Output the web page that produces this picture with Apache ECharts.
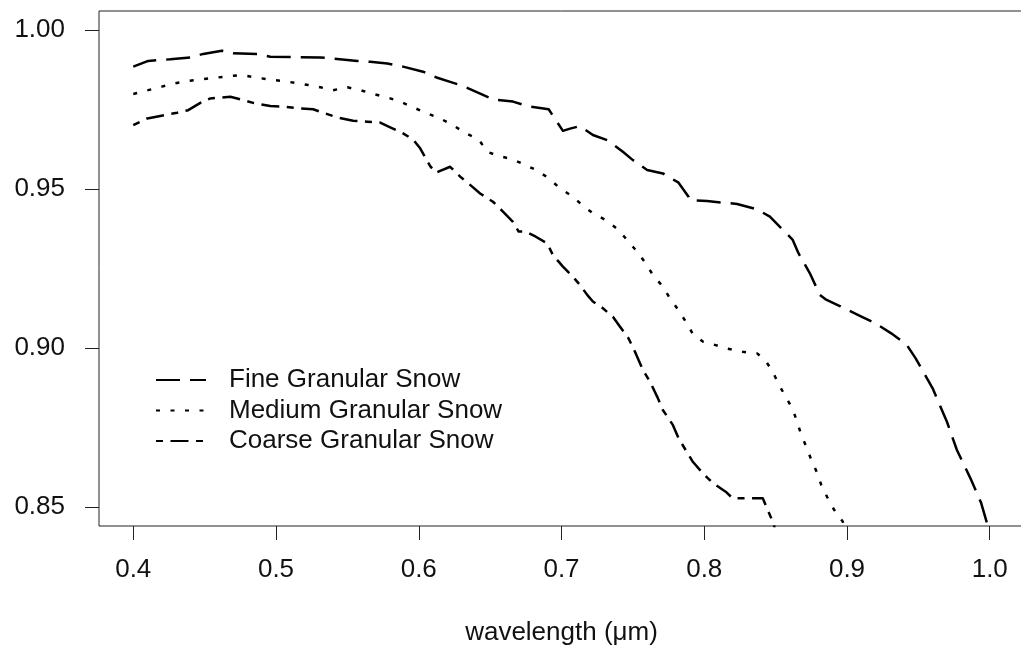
<!DOCTYPE html>
<html>
<head>
<meta charset="utf-8">
<script src="https://cdn.jsdelivr.net/npm/echarts@6/dist/echarts.min.js"></script>
<style>
html,body{margin:0;padding:0;background:#fff;}
#chart{width:1021px;height:645px;}
</style>
</head>
<body>
<div id="chart"></div>
<script>
// ---- data ----
const seriesNames = ["Fine Granular Snow", "Medium Granular Snow", "Coarse Granular Snow"];

const wlFine = [0.400,0.4105,0.426,0.440,0.449,0.462,0.470,0.487,0.496,0.531,0.557,0.566,0.578,0.589,0.603,0.613,0.622,0.631,0.645,0.652,0.666,0.676,0.691,0.696,0.701,0.706,0.713,0.722,0.732,0.743,0.750,0.760,0.771,0.782,0.789,0.790,0.802,0.823,0.837,0.846,0.862,0.866,0.874,0.881,0.885,0.895,0.909,0.919,0.931,0.939,0.942,0.948,0.960,0.970,0.977,0.987,0.994,0.998,1.000];
const rFine  = [0.9885,0.9903,0.9908,0.9914,0.9925,0.9935,0.9927,0.9925,0.9916,0.9914,0.9903,0.9900,0.9895,0.9885,0.9869,0.9850,0.9837,0.9824,0.9796,0.9782,0.9775,0.9761,0.9751,0.9717,0.9683,0.9690,0.9698,0.9670,0.9654,0.9617,0.9591,0.9560,0.9549,0.9520,0.9476,0.9465,0.9462,0.9453,0.9436,0.9413,0.9340,0.9298,0.9235,0.9167,0.9153,0.9132,0.9101,0.9080,0.9046,0.9020,0.9009,0.8968,0.8873,0.8768,0.8679,0.8585,0.8512,0.8450,0.8420];

const wlMedium = [0.400,0.4105,0.420,0.429,0.4385,0.448,0.4575,0.4666,0.4764,0.4855,0.4946,0.5044,0.5135,0.5226,0.531,0.540,0.550,0.559,0.568,0.578,0.587,0.596,0.606,0.615,0.624,0.633,0.642,0.648,0.656,0.666,0.675,0.683,0.691,0.699,0.708,0.715,0.722,0.732,0.740,0.747,0.753,0.759,0.764,0.771,0.776,0.782,0.787,0.792,0.799,0.808,0.816,0.827,0.837,0.843,0.848,0.852,0.857,0.862,0.865,0.868,0.872,0.875,0.879,0.882,0.886,0.891,0.897,0.899];
const rMedium  = [0.9799,0.9811,0.9822,0.9832,0.9840,0.9845,0.9850,0.9855,0.9858,0.9851,0.9845,0.9840,0.9834,0.9827,0.9820,0.9811,0.9820,0.9811,0.9799,0.9788,0.9775,0.9757,0.9738,0.9722,0.9701,0.9675,0.9656,0.9617,0.9604,0.9593,0.9575,0.9558,0.9534,0.9502,0.9476,0.9447,0.9424,0.9400,0.9371,0.9334,0.9303,0.9266,0.9230,0.9193,0.9156,0.9119,0.9083,0.9044,0.9020,0.9009,0.8998,0.8988,0.8983,0.8960,0.8925,0.8887,0.8847,0.8807,0.8768,0.8726,0.8684,0.8648,0.8608,0.8569,0.8532,0.8491,0.8454,0.8425];

const wlCoarse = [0.400,0.4098,0.4189,0.4308,0.4385,0.447,0.454,0.4596,0.468,0.475,0.484,0.496,0.505,0.515,0.526,0.533,0.543,0.554,0.564,0.573,0.580,0.589,0.596,0.601,0.608,0.612,0.615,0.622,0.629,0.636,0.643,0.652,0.659,0.666,0.670,0.675,0.682,0.690,0.694,0.701,0.708,0.713,0.718,0.722,0.729,0.736,0.741,0.747,0.752,0.757,0.762,0.767,0.771,0.778,0.782,0.787,0.792,0.799,0.806,0.815,0.820,0.832,0.841,0.845,0.8485,0.850];
const rCoarse  = [0.9701,0.9722,0.9730,0.9740,0.9748,0.9771,0.9785,0.9787,0.9790,0.9782,0.9771,0.9761,0.9759,0.9754,0.9751,0.9740,0.9725,0.9715,0.9712,0.9709,0.9694,0.9675,0.9656,0.9628,0.9572,0.9551,0.9557,0.9570,0.9539,0.9513,0.9486,0.9460,0.9429,0.9397,0.9366,0.9366,0.9350,0.9329,0.9292,0.9256,0.9224,0.9198,0.9167,0.9146,0.9125,0.9098,0.9067,0.9030,0.8983,0.8931,0.8894,0.8847,0.8805,0.8758,0.8716,0.8679,0.8642,0.8606,0.8575,0.8548,0.8527,0.8527,0.8527,0.8485,0.8448,0.8420];

const xTicks = [0.4,0.5,0.6,0.7,0.8,0.9,1.0];
const yTicks = [0.85,0.90,0.95,1.00];
const xTitle = "wavelength (\u03bcm)";

// ---- chart ----
const FONT = "Liberation Sans, Arial, sans-serif";
const FS = 26;
const zip = (a, b) => a.map((v, i) => [v, b[i]]);
const dashes = [[24, 10], [4, 10.5], [7, 7.5, 18, 7.5]];
const dataSets = [zip(wlFine, rFine), zip(wlMedium, rMedium), zip(wlCoarse, rCoarse)];

const chart = echarts.init(document.getElementById('chart'), null, {renderer: 'canvas'});
chart.setOption({
  animation: false,
  backgroundColor: '#fff',
  grid: {left: 99, top: 11, width: 925, height: 515, show: true, borderColor: '#222', borderWidth: 1,
         backgroundColor: 'transparent', containLabel: false, outerBoundsMode: 'none'},
  xAxis: {
    type: 'value', min: 0.376, max: 1.024,
    name: xTitle, nameLocation: 'middle', nameGap: 94,
    nameTextStyle: {fontFamily: FONT, fontSize: FS, color: '#111'},
    axisLine: {show: false},
    splitLine: {show: false},
    axisTick: {show: true, inside: false, length: 14, customValues: xTicks, lineStyle: {color: '#222', width: 1}},
    axisLabel: {customValues: xTicks, margin: 31, fontFamily: FONT, fontSize: FS, color: '#111', formatter: v => v.toFixed(1)}
  },
  yAxis: {
    type: 'value', min: 0.844, max: 1.006,
    axisLine: {show: false},
    splitLine: {show: false},
    axisTick: {show: true, inside: false, length: 14, customValues: yTicks, lineStyle: {color: '#222', width: 1}},
    axisLabel: {customValues: yTicks, margin: 34, fontFamily: FONT, fontSize: FS, color: '#111', formatter: v => v.toFixed(2)}
  },
  legend: {
    show: true, orient: 'vertical', left: 155, top: 367, padding: 0,
    itemWidth: 50, itemHeight: 14, itemGap: 4.5,
    itemStyle: {opacity: 0, borderWidth: 0},
    textStyle: {fontFamily: FONT, fontSize: FS, color: '#111', lineHeight: 25, padding: [0, 0, 0, 18]},
    data: seriesNames
  },
  series: seriesNames.map((n, i) => ({
    name: n, type: 'line', data: dataSets[i], showSymbol: false, symbol: 'none',
    clip: true, smooth: false,
    lineStyle: {color: '#000', width: 2.5, type: dashes[i], cap: 'butt', join: 'round'},
    itemStyle: {color: '#000'}
  }))
});
</script>
</body>
</html>
